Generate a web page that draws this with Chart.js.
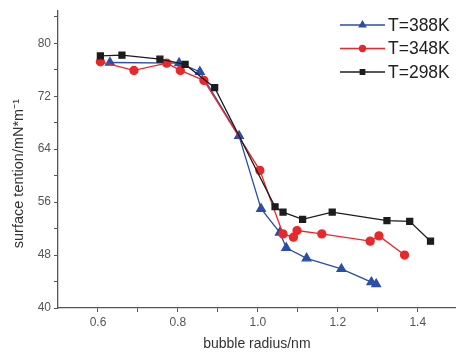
<!DOCTYPE html>
<html>
<head>
<meta charset="utf-8">
<script src="https://cdn.jsdelivr.net/npm/chart.js@4"></script>
<style>
  html, body { margin: 0; padding: 0; background: #fff; }
  #wrap { width: 462px; height: 355px; position: relative; }
</style>
</head>
<body>
<div id="wrap"><canvas id="myChart"></canvas></div>
<script>
// values
var r388 = [0.630, 0.803, 0.855, 0.953, 1.008, 1.055, 1.071, 1.122, 1.209, 1.284, 1.296];
var t388 = [77.1, 77.0, 75.7, 66.0, 55.0, 51.4, 49.1, 47.5, 45.9, 43.9, 43.6];

var r348 = [0.606, 0.690, 0.772, 0.806, 0.865, 1.005, 1.063, 1.089, 1.098, 1.160, 1.281, 1.303, 1.367];
var t348 = [77.2, 75.9, 77.0, 75.9, 74.4, 60.8, 51.2, 50.7, 51.7, 51.2, 50.1, 50.9, 48.0];

var r298 = [0.606, 0.660, 0.755, 0.818, 0.892, 1.043, 1.063, 1.112, 1.186, 1.323, 1.380, 1.432];
var t298 = [78.1, 78.2, 77.6, 76.8, 73.3, 55.3, 54.5, 53.4, 54.5, 53.2, 53.1, 50.1];

var seriesNames = ["T=388K", "T=348K", "T=298K"];
var xTicks = [0.6, 0.7, 0.8, 0.9, 1.0, 1.1, 1.2, 1.3, 1.4];
var xLabels = [0.6, 0.8, 1.0, 1.2, 1.4];
var yTicks = [40, 44, 48, 52, 56, 60, 64, 68, 72, 76, 80, 84];
var yLabels = [40, 48, 56, 64, 72, 80];

function pts(xs, ys) {
  return xs.map(function (x, i) { return {x: x, y: ys[i]}; });
}

var blue = "#2b4ea6", red = "#e8282b", black = "#1c1c1c";
var fontFam = "'Liberation Sans', Arial, sans-serif";

// legend drawn inside the plot, line with a marker through it
var innerLegend = {
  id: "innerLegend",
  afterDraw: function (chart) {
    var ctx = chart.ctx;
    var x0 = 340, x1 = 385, y = 25;
    chart.data.datasets.forEach(function (ds, i) {
      var yy = y + i * 23.5;
      ctx.save();
      ctx.strokeStyle = ds.borderColor;
      ctx.lineWidth = 1.3;
      ctx.beginPath();
      ctx.moveTo(x0, yy);
      ctx.lineTo(x1, yy);
      ctx.stroke();
      ctx.fillStyle = ds.backgroundColor;
      Chart.helpers.drawPoint(ctx, {
        pointStyle: ds.pointStyle, radius: ds.pointRadius * 0.75, borderWidth: 1
      }, (x0 + x1) / 2, yy);
      ctx.fillStyle = "#222";
      ctx.font = "17.5px " + fontFam;
      ctx.textBaseline = "middle";
      ctx.fillText(ds.label, 388, yy + 1);
      ctx.restore();
    });
  }
};

var ctx_live = document.getElementById("myChart");

var myChart = new Chart(ctx_live, {
  type: "scatter",
  data: {
    datasets: [{
      label: seriesNames[0],
      data: pts(r388, t388),
      borderColor: blue,
      backgroundColor: blue,
      pointStyle: "triangle",
      pointRadius: 5,
      borderWidth: 1.3,
      showLine: true,
      order: 3
    }, {
      label: seriesNames[1],
      data: pts(r348, t348),
      borderColor: red,
      backgroundColor: red,
      pointStyle: "circle",
      pointRadius: 4,
      borderWidth: 1.3,
      showLine: true,
      order: 2
    }, {
      label: seriesNames[2],
      data: pts(r298, t298),
      borderColor: black,
      backgroundColor: black,
      pointStyle: "rect",
      pointRadius: 4.2,
      borderWidth: 1.3,
      showLine: true,
      order: 1
    }]
  },
  options: {
    responsive: true,
    maintainAspectRatio: false,
    animation: false,
    layout: { padding: { top: 4, right: 0, left: 10, bottom: 0 } },
    plugins: {
      legend: { display: false },
      tooltip: { enabled: false }
    },
    scales: {
      x: {
        type: "linear",
        min: 0.5,
        max: 1.495,
        afterBuildTicks: function (s) { s.ticks = xTicks.map(function (v) { return {value: v}; }); },
        afterFit: function (s) { s.height = 47; },
        border: { display: true, color: "#555", width: 1.3 },
        grid: { drawOnChartArea: false, drawTicks: true, tickLength: 4, color: "#555" },
        ticks: {
          color: "#555",
          padding: 3,
          maxRotation: 0,
          autoSkip: false,
          font: { family: fontFam, size: 12 },
          callback: function (v) {
            return xLabels.some(function (l) { return Math.abs(l - v) < 1e-6; }) ? v.toFixed(1) : "";
          }
        },
        title: {
          display: true,
          text: "bubble radius/nm",
          color: "#333",
          padding: { top: 4, bottom: 2 },
          font: { family: fontFam, size: 14 }
        }
      },
      y: {
        type: "linear",
        min: 40,
        max: 85,
        afterBuildTicks: function (s) { s.ticks = yTicks.map(function (v) { return {value: v}; }); },
        afterFit: function (s) { s.width = 48; },
        border: { display: true, color: "#555", width: 1.3 },
        grid: { drawOnChartArea: false, drawTicks: true, tickLength: 4, color: "#555" },
        ticks: {
          color: "#555",
          padding: 3,
          autoSkip: false,
          font: { family: fontFam, size: 12 },
          callback: function (v) {
            return yLabels.indexOf(v) >= 0 ? String(v) : "";
          }
        },
        title: {
          display: true,
          text: "surface tention/mN*m\u207B\u00B9\u2002\u2002\u2002\u2002",
          color: "#333",
          padding: { top: 0, bottom: 2 },
          font: { family: fontFam, size: 14.5 }
        }
      }
    }
  },
  plugins: [innerLegend]
});
</script>
</body>
</html>
